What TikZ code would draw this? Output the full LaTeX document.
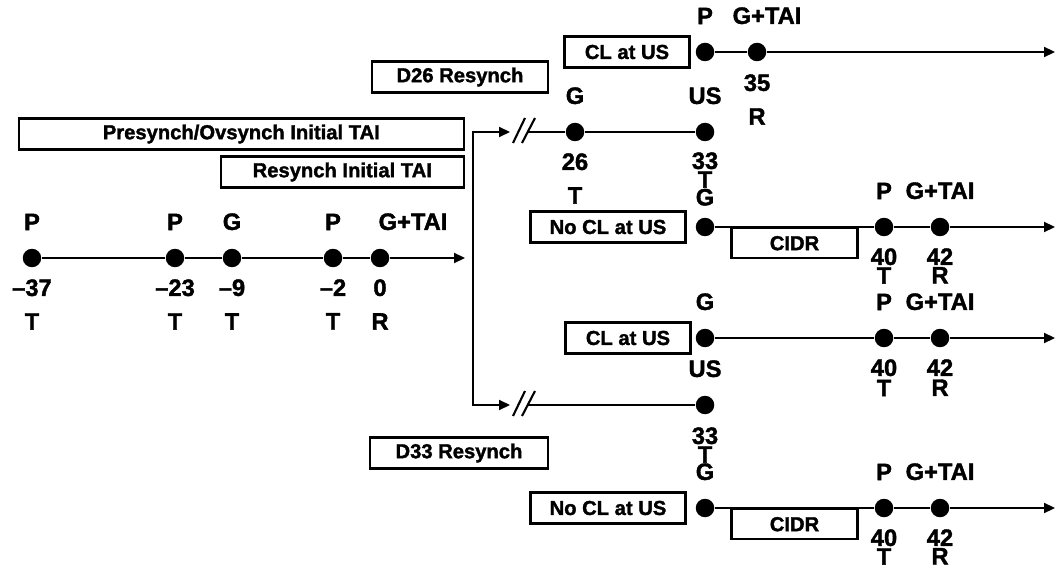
\documentclass[tikz,border=0pt]{standalone}
\usepackage{fontspec}
\setmainfont[BoldFeatures={FakeBold=1.6}]{Liberation Sans}
\usetikzlibrary{positioning, arrows.meta}

\begin{document}
\begin{tikzpicture}[x=0.02cm, y=-0.02cm, line width=1.2pt,
  >={Triangle[length=0.22cm, width=0.2cm]},
  % event dots on the time lines
  dot/.style={circle, fill, inner sep=0pt, minimum size=0.37cm},
  % day numbers and event letters
  lbl/.style={inner sep=0pt, font=\fontsize{13.5}{15}\selectfont\bfseries},
  % framed protocol boxes
  box/.style={draw, line width=1.4pt, inner sep=0pt, minimum height=0.62cm,
              font=\fontsize{11.5}{13}\selectfont\bfseries}
]
  \useasboundingbox (0,0) rectangle (1057,567);

  % Initial TAI boxes
  \node[box, minimum width=8.9cm, anchor=east] (presynch) at (465,134) {Presynch/Ovsynch Initial TAI};
  \node[box, minimum width=4.86cm, anchor=east] (resynch) at (465,172) {Resynch Initial TAI};

  % Initial time line
  \node[dot] (m1) at (32,258) {};
  \node[dot] (m2) at (175,258) {};
  \node[dot] (m3) at (232,258) {};
  \node[dot] (m4) at (333,258) {};
  \node[dot] (m5) at (380,258) {};
  \coordinate (mend) at (465,258);
  \draw[->] (m1) -- (m2) -- (m3) -- (m4) -- (m5) -- (mend);
  \foreach \d/\ev/\day/\hr in {m1/P/\textendash37/T, m2/P/\textendash23/T,
      m3/G/\textendash9/T, m4/P/\textendash2/T} {
    \node[lbl, above=0.33cm of \d] (\d-ev) {\ev};
    \node[lbl, below=0.2cm of \d] (\d-day) {\day};
    \node[lbl, below=0.3cm of \d-day] (\d-hr) {\hr};
  }
  \node[lbl, above=0.33cm of m5, xshift=0.66cm] (m5-ev) {G+TAI};
  \node[lbl, below=0.2cm of m5] (m5-day) {0};
  \node[lbl, below=0.3cm of m5-day] (m5-hr) {R};

  % Fork to the two resynch days
  \coordinate (forktop) at (473,132);
  \coordinate (forkbot) at (473,405);
  \coordinate (cut26) at (510,132);
  \coordinate (cut33) at (510,405);
  \draw[<->] (cut26) -- (forktop) -- (forkbot) -- (cut33);
  \foreach \c in {cut26, cut33} {
    \draw ([shift={(3,11)}]\c) -- ++(12,-25);
    \draw ([shift={(12,11)}]\c) -- ++(13,-25);
  }

  % D26 resynch
  \node[box, minimum width=3.52cm] (d26) at (460,77) {D26 Resynch};
  \node[dot] (a26) at (575,132) {};
  \node[dot] (a33) at (705,132) {};
  \draw ([xshift=0.36cm]cut26) -- (a26) -- (a33);
  \node[lbl, above=0.33cm of a26] (a26-ev) {G};
  \node[lbl, below=0.2cm of a26] (a26-day) {26};
  \node[lbl, below=0.3cm of a26-day] (a26-hr) {T};
  \node[lbl, above=0.33cm of a33] (a33-ev) {US};
  \node[lbl, below=0.18cm of a33] (a33-day) {33};
  \node[lbl, below=0cm of a33-day] (a33-hr) {T};

  % D26: CL at US
  \node[dot] (c1) at (705,52) {};
  \node[dot] (c2) at (757,52) {};
  \coordinate (cend) at (1055,52);
  \draw[->] (c1) -- (c2) -- (cend);
  \node[box, minimum width=2.5cm, left=0.08cm of c1] (cl26) {CL at US};
  \node[lbl, above=0.33cm of c1] (c1-ev) {P};
  \node[lbl, above=0.33cm of c2, xshift=0.2cm] (c2-ev) {G+TAI};
  \node[lbl, below=0.22cm of c2] (c2-day) {35};
  \node[lbl, below=0.3cm of c2-day] (c2-hr) {R};

  % D26: no CL at US
  \node[dot] (n1) at (705,227) {};
  \node[dot] (n2) at (884,227) {};
  \node[dot] (n3) at (940,227) {};
  \coordinate (nend) at (1055,227);
  \draw[->] (n1) -- (n2) -- (n3) -- (nend);
  \node[box, minimum width=3.1cm, left=0.16cm of n1] (nocl26) {No CL at US};
  \node[box, minimum width=2.52cm, minimum height=0.6cm,
        below right=0cm and 0.3cm of n1.east] (cidr26) {CIDR};
  \node[lbl, above=0.2cm of n1] (n1-ev) {G};
  \node[lbl, above=0.33cm of n2] (n2-ev) {P};
  \node[lbl, above=0.33cm of n3] (n3-ev) {G+TAI};
  \node[lbl, below=0.2cm of n2] (n2-day) {40};
  \node[lbl, below=0cm of n2-day] (n2-hr) {T};
  \node[lbl, below=0.2cm of n3] (n3-day) {42};
  \node[lbl, below=0cm of n3-day] (n3-hr) {R};

  % D33: CL at US
  \node[dot] (k1) at (705,338) {};
  \node[dot] (k2) at (884,338) {};
  \node[dot] (k3) at (940,338) {};
  \coordinate (kend) at (1055,338);
  \draw[->] (k1) -- (k2) -- (k3) -- (kend);
  \node[box, minimum width=2.5cm, left=0.06cm of k1] (cl33) {CL at US};
  \node[lbl, above=0.33cm of k1] (k1-ev) {G};
  \node[lbl, above=0.33cm of k2] (k2-ev) {P};
  \node[lbl, above=0.33cm of k3] (k3-ev) {G+TAI};
  \node[lbl, below=0.2cm of k2] (k2-day) {40};
  \node[lbl, below=0.03cm of k2-day] (k2-hr) {T};
  \node[lbl, below=0.2cm of k3] (k3-day) {42};
  \node[lbl, below=0.03cm of k3-day] (k3-hr) {R};

  % D33 resynch
  \node[dot] (e33) at (705,405) {};
  \draw ([xshift=0.36cm]cut33) -- (e33);
  \node[box, minimum width=3.56cm] (d33) at (459,453) {D33 Resynch};
  \node[lbl, above=0.33cm of e33] (e33-ev) {US};
  \node[lbl, below=0.22cm of e33] (e33-day) {33};
  \node[lbl, below=0cm of e33-day] (e33-hr) {T};

  % D33: no CL at US
  \node[dot] (r1) at (705,508) {};
  \node[dot] (r2) at (884,508) {};
  \node[dot] (r3) at (940,508) {};
  \coordinate (rend) at (1055,508);
  \draw[->] (r1) -- (r2) -- (r3) -- (rend);
  \node[box, minimum width=3.1cm, left=0.16cm of r1] (nocl33) {No CL at US};
  \node[box, minimum width=2.52cm, minimum height=0.6cm,
        below right=0cm and 0.3cm of r1.east] (cidr33) {CIDR};
  \node[lbl, above=0.33cm of r1] (r1-ev) {G};
  \node[lbl, above=0.33cm of r2] (r2-ev) {P};
  \node[lbl, above=0.33cm of r3] (r3-ev) {G+TAI};
  \node[lbl, below=0.2cm of r2] (r2-day) {40};
  \node[lbl, below=0cm of r2-day] (r2-hr) {T};
  \node[lbl, below=0.2cm of r3] (r3-day) {42};
  \node[lbl, below=0cm of r3-day] (r3-hr) {R};
\end{tikzpicture}
\end{document}
